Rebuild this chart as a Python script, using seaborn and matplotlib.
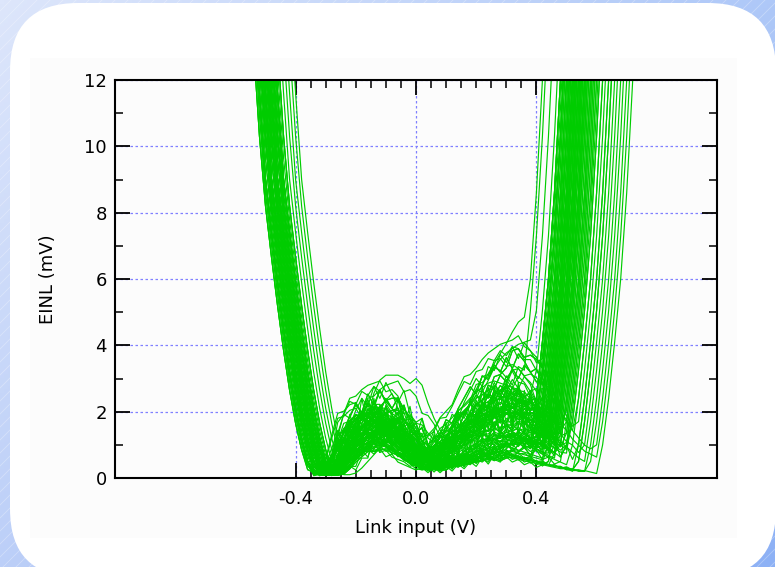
import numpy as np
import pandas as pd
import matplotlib
matplotlib.use("Agg")
import matplotlib.pyplot as plt
import seaborn as sns
from matplotlib.patches import FancyBboxPatch, Rectangle
from matplotlib.ticker import FixedLocator, MultipleLocator

# --- data ----------------------------------------------------------------
# shape of the left wall: EINL vs distance to the left of the point where it meets the floor
left_d = [0.0, 0.02, 0.04, 0.06, 0.08, 0.10, 0.12, 0.14, 0.16, 0.18, 0.20, 0.22]
left_y = [0.0, 0.5, 1.2, 2.1, 3.2, 4.5, 5.9, 7.4, 9.0, 11.6, 14.5, 17.5]

# shape of the right wall: EINL vs distance to the right of where it leaves the floor
right_d = [0.0, 0.02, 0.04, 0.06, 0.08, 0.10, 0.12, 0.14, 0.16]
right_y = [0.0, 1.0, 2.4, 4.1, 6.0, 8.6, 12.0, 16.0, 20.0]

# noisy floor profiles between the walls, sampled every 20 mV from -0.30 V
mid_x = np.round(np.arange(-0.30, 0.601, 0.02), 2)
profiles = [
    [0.2, 0.1, 0.3, 0.8, 1.1, 1.4, 1.3, 1.7, 1.5, 1.8, 1.4, 1.6, 1.2, 1.1, 0.8, 0.9, 0.6, 0.5, 0.7, 0.6,
     0.9, 0.8, 1.1, 1.0, 1.3, 1.2, 1.5, 1.4, 1.7, 1.5, 1.8, 1.6, 1.9, 1.7, 1.5, 1.8, 1.4, 1.6, 1.2, 1.0,
     0.9, 0.7, 0.6, 0.5, 0.4, 0.4],
    [0.1, 0.1, 0.2, 0.5, 0.7, 0.9, 1.1, 0.9, 1.2, 1.0, 1.1, 0.8, 0.9, 0.6, 0.5, 0.4, 0.3, 0.4, 0.2, 0.4,
     0.5, 0.4, 0.6, 0.5, 0.7, 0.6, 0.8, 0.7, 0.6, 0.9, 0.7, 0.8, 0.6, 0.7, 0.5, 0.6, 0.4, 0.5, 0.3, 0.4,
     0.3, 0.2, 0.3, 0.2, 0.2, 0.1],
    [0.4, 0.3, 0.6, 1.3, 1.7, 2.0, 1.8, 2.3, 2.0, 2.4, 2.1, 1.9, 2.2, 1.6, 1.4, 1.5, 1.0, 0.9, 1.1, 1.2,
     1.6, 1.5, 1.9, 2.2, 2.5, 2.3, 2.8, 2.7, 3.1, 2.9, 3.3, 3.0, 3.4, 3.2, 2.9, 3.0, 2.6, 2.5, 2.1, 1.8,
     1.6, 1.3, 1.1, 0.9, 0.8, 0.7],
    [0.1, 0.3, 0.6, 1.4, 1.6, 1.5, 1.9, 1.6, 1.4, 1.5, 1.1, 1.2, 0.9, 0.8, 0.7, 0.5, 0.6, 0.4, 0.6, 0.8,
     1.0, 1.3, 1.2, 1.6, 1.5, 1.9, 1.8, 2.2, 2.0, 2.4, 2.1, 2.3, 2.0, 2.2, 1.9, 1.7, 1.8, 1.5, 1.3, 1.1,
     0.9, 0.8, 0.6, 0.5, 0.4, 0.3],
    [0.1, 0.1, 0.2, 0.4, 0.6, 0.8, 1.0, 1.2, 1.4, 1.3, 1.6, 1.5, 1.8, 1.4, 1.3, 1.0, 0.8, 0.6, 0.5, 0.4,
     0.6, 0.5, 0.7, 0.6, 0.8, 0.9, 1.0, 1.2, 1.1, 1.3, 1.2, 1.4, 1.3, 1.2, 1.0, 1.1, 0.9, 0.8, 0.7, 0.6,
     0.5, 0.4, 0.3, 0.3, 0.2, 0.2],
    [0.3, 0.2, 0.5, 0.5, 1.2, 0.9, 1.6, 1.1, 2.0, 1.3, 1.8, 1.0, 1.5, 0.8, 1.2, 0.5, 0.9, 0.3, 0.7, 0.4,
     1.1, 0.6, 1.4, 0.8, 1.7, 1.0, 2.0, 1.2, 2.3, 1.5, 2.1, 1.4, 2.4, 1.3, 2.0, 1.1, 1.7, 0.9, 1.4, 0.8,
     1.1, 0.6, 0.9, 0.5, 0.6, 0.3],
    [0.4, 0.8, 1.5, 2.2, 2.9, 3.0, 3.2, 3.0, 3.2, 2.8, 2.9, 3.1, 2.5, 2.0, 1.6, 1.3, 1.0, 1.2, 1.5, 1.8,
     2.2, 2.6, 3.0, 3.3, 3.6, 3.9, 4.2, 4.6, 4.8, 4.9, 5.3, 5.6, 5.9, 6.2, 6.5, 6.8, 7.2, 7.6, 8.0, 8.5,
     9.0, 9.5, 10.0, 10.5, 11.0, 11.5],
    [0.1, 0.2, 0.4, 0.7, 1.0, 1.3, 1.6, 1.4, 1.9, 1.7, 2.0, 1.7, 1.5, 1.3, 1.0, 0.7, 0.5, 0.3, 0.4, 0.6,
     0.9, 1.2, 1.1, 1.5, 1.9, 1.7, 2.2, 2.5, 2.3, 2.8, 3.1, 2.9, 2.7, 3.0, 2.5, 2.6, 2.1, 1.7, 1.4, 1.2,
     1.0, 0.8, 0.7, 0.5, 0.4, 0.3],
    [0.2, 0.1, 0.3, 0.6, 0.9, 1.2, 1.0, 1.5, 1.3, 1.7, 1.5, 1.9, 1.6, 1.2, 1.4, 0.9, 0.7, 0.8, 0.4, 0.3,
     0.5, 0.3, 0.6, 0.4, 0.7, 0.5, 0.9, 0.6, 1.0, 0.8, 1.2, 0.9, 1.1, 1.3, 1.0, 1.2, 0.8, 0.9, 0.6, 0.7,
     0.5, 0.4, 0.3, 0.3, 0.2, 0.1],
]

# one entry per Monte Carlo run
left_floor = [-0.31, -0.33, -0.29, -0.34, -0.30, -0.32, -0.28, -0.35, -0.31, -0.30,
              -0.33, -0.29, -0.32, -0.27, -0.34, -0.31, -0.30, -0.28, -0.33, -0.32,
              -0.29, -0.35, -0.31, -0.30, -0.34, -0.28, -0.32, -0.33, -0.29, -0.31,
              -0.30, -0.27, -0.34, -0.32, -0.31, -0.29, -0.33, -0.30, -0.28, -0.35,
              -0.31, -0.32, -0.29, -0.34, -0.30, -0.33, -0.28, -0.31, -0.32, -0.30,
              -0.29, -0.34, -0.31, -0.27, -0.33, -0.30, -0.32, -0.29, -0.31, -0.28,
              -0.33, -0.30, -0.34, -0.32, -0.29, -0.31, -0.26, -0.25, -0.24, -0.23,
              -0.22, -0.30, -0.315, -0.325, -0.305, -0.295, -0.335, -0.285, -0.345, -0.31,
              -0.32, -0.30, -0.29, -0.33, -0.305, -0.315, -0.325, -0.295, -0.34, -0.28,
              -0.31, -0.32, -0.30, -0.335, -0.285, -0.305, -0.315, -0.295, -0.325, -0.33,
              -0.31, -0.29, -0.32, -0.30, -0.345, -0.275, -0.31, -0.30]
right_floor = [0.40, 0.43, 0.37, 0.46, 0.41, 0.39, 0.50, 0.36, 0.44, 0.42,
               0.38, 0.47, 0.40, 0.52, 0.43, 0.37, 0.45, 0.41, 0.39, 0.55,
               0.42, 0.36, 0.48, 0.40, 0.44, 0.38, 0.51, 0.43, 0.41, 0.37,
               0.46, 0.39, 0.42, 0.57, 0.40, 0.44, 0.36, 0.49, 0.41, 0.38,
               0.43, 0.53, 0.40, 0.45, 0.37, 0.42, 0.39, 0.47, 0.44, 0.60,
               0.41, 0.38, 0.50, 0.43, 0.36, 0.46, 0.40, 0.42, 0.58, 0.39,
               0.44, 0.37, 0.48, 0.41, 0.54, 0.43, 0.33, 0.31, 0.40, 0.35,
               0.30, 0.45, 0.415, 0.445, 0.385, 0.465, 0.425, 0.395, 0.475, 0.405,
               0.435, 0.52, 0.375, 0.455, 0.415, 0.49, 0.365, 0.425, 0.445, 0.56,
               0.395, 0.435, 0.405, 0.475, 0.385, 0.455, 0.415, 0.53, 0.425, 0.445,
               0.395, 0.465, 0.405, 0.485, 0.435, 0.375, 0.59, 0.415]
floor_scale = [1.0, 0.8, 1.2, 0.9, 1.1, 0.7, 1.3, 1.0, 0.9, 1.2,
               0.8, 1.1, 1.0, 0.7, 1.2, 0.9, 1.3, 1.0, 0.8, 1.1,
               0.9, 1.2, 0.7, 1.0, 1.1, 0.8, 1.3, 0.9, 1.0, 1.2,
               0.8, 1.1, 0.9, 1.0, 0.7, 1.2, 1.0, 0.9, 1.3, 0.8,
               1.1, 1.0, 0.9, 1.2, 0.8, 1.0, 1.1, 0.7, 1.2, 0.9,
               1.0, 1.3, 0.8, 1.1, 0.9, 1.0, 1.2, 0.8, 1.1, 1.0,
               0.9, 1.2, 0.7, 1.0, 1.1, 0.9, 1.3, 1.4, 1.0, 1.2,
               1.0, 0.8, 0.9, 1.1, 0.8, 1.2, 1.0, 0.7, 1.1, 0.9,
               1.3, 0.8, 1.0, 1.2, 0.9, 1.1, 0.7, 1.0, 1.2, 0.8,
               1.1, 0.9, 1.0, 1.3, 0.8, 1.0, 1.1, 0.9, 1.2, 0.7,
               1.0, 1.1, 0.9, 1.2, 0.8, 1.0, 0.9, 1.1]
profile_id = ([0, 1, 2, 3, 4, 5, 7, 8] * 14)[:len(left_floor)]
profile_id[70] = 6

x_ticks = [-0.4, 0.0, 0.4]
x_ticklabels = ["-0.4", "0.0", "0.4"]

# --- build the runs --------------------------------------------------------
v = np.round(np.arange(-0.60, 0.80, 0.02), 2)
rows = []
for i in range(len(left_floor)):
    prof = profiles[profile_id[i]]
    shift = left_floor[i] + 0.31
    y_left = np.interp(left_floor[i] - v, left_d, left_y, left=0.0, right=20.0)
    y_mid = floor_scale[i] * np.interp(v - shift, mid_x, prof)
    y_right = np.interp(v - right_floor[i], right_d, right_y, left=0.0, right=25.0)
    y = np.minimum(np.maximum.reduce([y_left, y_mid, y_right]), 16)
    rows.append(pd.DataFrame({"run": i, "v": v, "einl": y}))
df = pd.concat(rows, ignore_index=True)

# --- figure ----------------------------------------------------------------
plt.rcParams["font.family"] = ["DejaVu Sans"]
W, H = 775, 567
fig = plt.figure(figsize=(W / 100, H / 100), dpi=100)

# blue striped backdrop with a rounded white card
bg = fig.add_axes([0, 0, 1, 1])
bg.set_xlim(0, W)
bg.set_ylim(H, 0)
bg.axis("off")
gx, gy = np.meshgrid(np.linspace(0, 1, 200), np.linspace(0, 1, 150))
c0 = np.array([221, 230, 251]) / 255
ca = np.array([-47, -30, -3]) / 255
cb = np.array([-33, -23, -3]) / 255
grad = c0 + gx[..., None] * ca + gy[..., None] * cb
bg.imshow(grad, extent=[0, W, H, 0], aspect="auto", zorder=0)
for c in range(-600, 1400, 13):
    bg.plot([c - H, c], [H, 0], color="white", alpha=0.3, lw=0.6, zorder=1)
bg.add_patch(FancyBboxPatch((10, 3), 766, 574, boxstyle="round,pad=0,rounding_size=68",
                            fc="white", ec="none", zorder=2))
bg.add_patch(Rectangle((30, 58), 707, 480, fc="#fcfcfc", ec="none", zorder=3))
bg.set_xlim(0, W)
bg.set_ylim(H, 0)

ax = fig.add_axes([115 / W, (H - 478) / H, (717 - 115) / W, (478 - 80) / H])
ax.set_facecolor("none")

sns.lineplot(data=df, x="v", y="einl", units="run", estimator=None,
             color="#00cc00", linewidth=0.85, legend=False, ax=ax)

ax.set_xlim(-1.0, 1.0)
ax.set_ylim(0, 12)
ax.xaxis.set_major_locator(FixedLocator(x_ticks))
ax.set_xticklabels(x_ticklabels)
ax.xaxis.set_minor_locator(FixedLocator(np.round(np.arange(-0.4, 0.401, 0.05), 2)))
ax.yaxis.set_major_locator(MultipleLocator(2))
ax.yaxis.set_minor_locator(MultipleLocator(1))

ax.tick_params(which="major", direction="in", length=10.5, width=1.3,
               top=True, right=True, labelsize=13, colors="black")
ax.tick_params(axis="y", which="major", pad=6)
ax.tick_params(axis="x", which="major", pad=9)
ax.tick_params(which="minor", direction="in", length=5.5, width=1.1, top=True, right=True)

ax.grid(True, which="major", color="#8080ff", linestyle=(0, (2, 2)), linewidth=0.9)
ax.set_axisbelow(True)
for s in ax.spines.values():
    s.set_linewidth(1.5)
    s.set_color("black")

ax.set_xlabel("Link input (V)", fontsize=13)
ax.set_ylabel("EINL (mV)", fontsize=13)
ax.xaxis.set_label_coords(0.5, -0.103)
ax.yaxis.set_label_coords(-0.096, 0.5)

fig.savefig("out.png", dpi=100)
